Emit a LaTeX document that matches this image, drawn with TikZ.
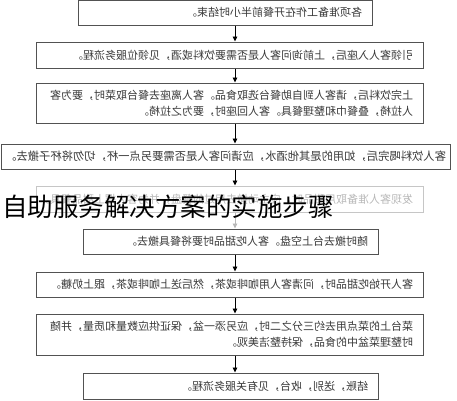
\documentclass[tikz,border=0pt]{standalone}
\usepackage{fontspec}
\setmainfont{Noto Sans CJK SC}
\usepackage{graphicx}
\usetikzlibrary{arrows.meta}

\definecolor{boxgray}{gray}{0.32}
\definecolor{textgray}{gray}{0.22}
\definecolor{fadegray}{gray}{0.72}

% mirrored text block, lines start at the right
\newcommand{\flipped}[2]{\reflectbox{\parbox{#1}{\raggedright #2}}}

\tikzset{
  stepbox/.style={draw=boxgray, line width=1pt, inner sep=0pt, text=textgray,
    font=\fontsize{11}{16}\selectfont},
  fadebox/.style={stepbox, draw=fadegray!80, text=fadegray},
  flow/.style={-{Triangle[length=5pt,width=4.5pt]}, line width=0.9pt},
}

\begin{document}
\begin{tikzpicture}[x=1pt,y=-1pt]
\useasboundingbox (0,0) rectangle (457,400);
\coordinate (axis) at (235,0);

% steps
\node[stepbox, minimum width=294pt, minimum height=24.5pt] (prep) at (225,12.75)
  {\flipped{274pt}{各项准备工作在开餐前半小时结束。}};
\node[stepbox, minimum width=387pt, minimum height=26pt] (seat) at (229.5,55)
  {\flipped{367pt}{引领客人入座后，上前询问客人是否需要饮料或酒，见领位服务流程。}};
\node[stepbox, minimum width=387pt, minimum height=40pt] (food) at (229.5,103)
  {\flipped{367pt}{上完饮料后，请客人到自助餐台选取食品。客人离座去餐台取菜时，要为客\\人拉椅，叠餐巾和整理餐具。客人回座时，要为之拉椅。}};
\node[stepbox, minimum width=449pt, minimum height=25pt, font=\fontsize{11.3}{16}\selectfont] (drink) at (225.5,156.5)
  {\flipped{441pt}{客人饮料喝完后，如用的是其他酒水，应请问客人是否需要另点一杯，切勿将杯子撤去。}};
\node[fadebox, minimum width=387pt, minimum height=26pt] (sweet) at (229.5,199)
  {\flipped{367pt}{发现客人准备取用甜品时，应主动撤去用过的餐盘，并为客人摆上甜品餐具。}};
\node[stepbox, minimum width=295pt, minimum height=25pt] (clear) at (230.5,241.5)
  {\flipped{275pt}{随时撤去台上空盘。客人吃甜品时要将餐具撤去。}};
\node[stepbox, minimum width=387pt, minimum height=25pt] (coffee) at (229.5,284.5)
  {\flipped{367pt}{客人开始吃甜品时，问清客人用咖啡或茶，然后送上咖啡或茶，跟上奶糖。}};
\node[stepbox, minimum width=387pt, minimum height=41pt] (refill) at (229.5,334.5)
  {\flipped{367pt}{菜台上的菜点用去约三分之二时，应另添一盆，保证供应数量和质量，并随\\时整理菜盆中的食品，保持整洁美观。}};
\node[stepbox, minimum width=295pt, minimum height=26pt] (bill) at (230.5,386)
  {\flipped{275pt}{结账，送别，收台，见有关服务流程。}};

% connectors
\draw[flow] (prep.south -| axis) -- (seat.north -| axis);
\draw[flow] (seat.south -| axis) -- (food.north -| axis);
\draw[flow] (food.south -| axis) -- (drink.north -| axis);
\draw[flow] (drink.south -| axis) -- (sweet.north -| axis);
\draw[flow, fadegray] (sweet.south -| axis) -- (clear.north -| axis);
\draw[flow] (clear.south -| axis) -- (coffee.north -| axis);
\draw[flow] (coffee.south -| axis) -- (refill.north -| axis);
\draw[flow] (refill.south -| axis) -- (bill.north -| axis);

% title over the chart
\node[anchor=west, inner sep=0pt, font=\fontsize{25.5}{30}\selectfont] (title) at (2,206.5)
  {自助服务解决方案的实施步骤};
\end{tikzpicture}
\end{document}
